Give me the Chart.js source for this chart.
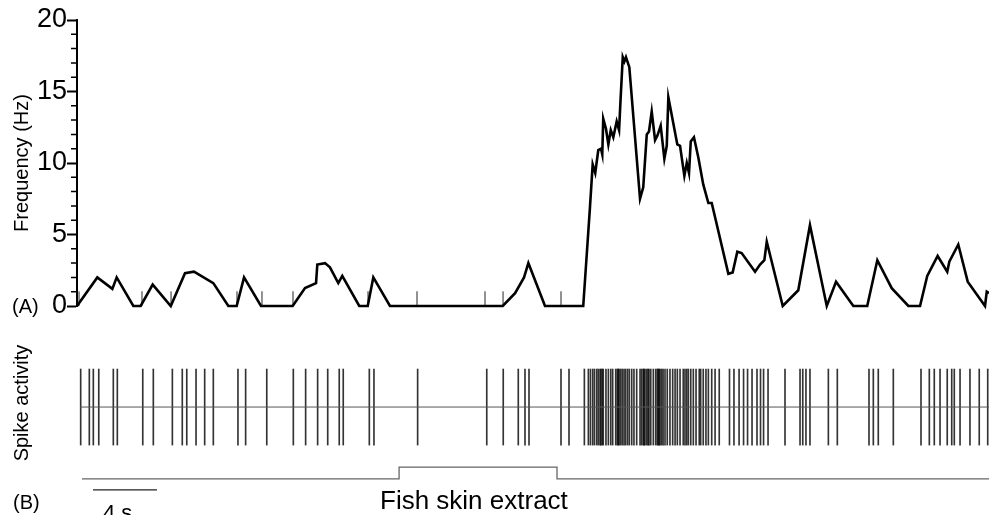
<!DOCTYPE html>
<html>
<head>
<meta charset="utf-8">
<title>Frequency and spike activity</title>
<script src="https://cdn.jsdelivr.net/npm/chart.js@4/dist/chart.umd.min.js"></script>
<style>
  html, body { margin: 0; padding: 0; background: #fff; overflow: hidden; }
  #wrap { position: relative; width: 989px; height: 515px; }
  #freqChart { position: absolute; left: 0; top: 0; }
  #spikeChart { position: absolute; left: 0; top: 320px; }
</style>
</head>
<body>
<div id="wrap">
  <canvas id="freqChart" width="989" height="330"></canvas>
  <canvas id="spikeChart" width="989" height="195"></canvas>
</div>
<script>
// (A) firing frequency, time in s
const freqTimes = [
  0.00, 1.27, 2.21, 2.48, 3.52, 3.98, 4.73, 5.86, 6.75, 7.31, 8.52, 9.46, 9.98, 10.44, 11.50,
  13.48, 14.25, 14.94, 15.02, 15.50, 15.81, 16.33, 16.58, 17.64, 18.17, 18.52, 19.56,
  26.61, 27.38, 27.94, 28.21, 29.25, 31.64,
  32.06, 32.23, 32.39, 32.58, 32.75, 32.83, 32.89, 33.06, 33.21, 33.36, 33.52, 33.73, 33.88, 33.98,
  34.11, 34.21, 34.31, 34.52, 35.19, 35.39, 35.61, 35.75, 35.92, 36.13, 36.27, 36.48, 36.71, 36.86,
  36.96, 37.52, 37.69, 37.96, 38.11, 38.25, 38.36, 38.56, 38.83, 39.14, 39.46, 39.67,
  40.71, 40.98, 41.27, 41.54, 42.38, 42.69, 42.96, 43.11, 44.11, 45.08, 45.81, 46.86, 47.44,
  48.52, 49.39, 50.02, 50.92, 51.96, 52.69, 53.14, 53.79, 54.39, 54.52, 55.08, 55.67, 56.75, 56.86, 57.00
];
const freqValues = [
  0, 2.0, 1.2, 2.0, 0, 0, 1.5, 0, 2.3, 2.4, 1.6, 0, 0, 2.0, 0,
  0, 1.25, 1.6, 2.9, 3.0, 2.7, 1.6, 2.1, 0, 0, 2.0, 0,
  0, 0.9, 2.0, 3.0, 0, 0,
  6.9, 9.9, 9.3, 10.9, 11.0, 10.6, 13.1, 12.4, 11.3, 12.3, 11.8, 12.9, 12.3, 14.6,
  17.4, 17.1, 17.4, 16.7, 7.5, 8.3, 12.0, 12.2, 13.6, 11.6, 11.9, 12.6, 10.3, 11.2,
  14.6, 11.3, 11.2, 9.1, 10.0, 9.3, 11.5, 11.8, 10.4, 8.5, 7.2, 7.2,
  2.25, 2.35, 3.8, 3.7, 2.4, 2.9, 3.2, 4.5, 0, 1.1, 5.65, 0, 1.7,
  0, 0, 3.2, 1.25, 0, 0, 2.1, 3.5, 2.4, 3.1, 4.3, 1.7, 0, 1.0, 0.9
];
// short grey marks standing on the zero line
const zeroMarkTimes = [0.13, 4.06, 5.88, 10.0, 11.56, 13.5, 18.19, 21.25, 25.5, 26.63, 30.25];
const zeroMarkRange = [0, 1];

const yTicksMajor = [0, 5, 10, 15, 20];
const yTicksMinor = [1, 2, 3, 4, 6, 7, 8, 9, 11, 12, 13, 14, 16, 17, 18, 19];

// (B) spike raster, time in s
const spikeTimes = [
  0.23, 0.77, 1.02, 1.36, 2.27, 2.52, 4.11, 4.77, 5.96, 6.58, 6.86, 7.44, 7.98, 8.52,
  10.06, 10.54, 11.86, 13.52, 14.29, 15.04, 15.67, 16.39, 16.64, 18.27, 18.56, 21.29,
  25.61, 26.64, 27.58, 28.00, 28.25, 30.25, 30.75,
  31.71, 31.96, 32.09, 32.23, 32.34, 32.48, 32.58, 32.69, 32.75, 32.83, 32.89, 33.06, 33.21,
  33.36, 33.48, 33.67, 33.77, 33.83, 33.88, 33.98, 34.08, 34.19, 34.29, 34.41, 34.52, 34.67,
  34.81, 34.98, 35.19, 35.29, 35.39, 35.44, 35.50, 35.61, 35.69, 35.75, 35.86, 36.02, 36.17,
  36.27, 36.33, 36.38, 36.44, 36.54, 36.63, 36.75, 36.89, 37.06, 37.23, 37.38, 37.52, 37.69,
  37.89, 38.00, 38.11, 38.21, 38.36, 38.52, 38.69, 38.89, 38.98, 39.14, 39.31, 39.46, 39.67,
  39.88, 40.14, 40.78, 41.06, 41.38, 41.66, 41.91, 42.19, 42.50, 42.72, 42.91, 43.19,
  44.25, 45.19, 45.36, 45.56, 45.81, 46.96, 47.52, 49.50, 49.77, 50.08, 51.02,
  52.75, 53.27, 53.58, 53.94, 54.39, 54.67, 54.83, 55.19, 55.81, 56.39, 56.92
];
const spikeRange = [-1, 1];
const rasterSpan = [0.19, 57];

// stimulus trace: fish skin extract on between 20.13 s and 30.0 s
const stimTimes = [0.31, 20.13, 30.0, 57];
const stimLevels = [-1.89, -1.58, -1.89, -1.89];

// 4 s scale bar
const scaleBarTimes = [1, 5];
const scaleBarLevel = -2.18;

Chart.defaults.font.family = "'Liberation Sans', Arial, Helvetica, sans-serif";
Chart.defaults.color = '#000';

function timeAxis() {
    return {
        type: 'linear',
        min: 0,
        max: 57,
        offset: false,
        display: false,
        grid: { offset: false }
    };
}

function drawText(ctx, text, x, y, size, align, rotation) {
    ctx.save();
    ctx.fillStyle = '#000';
    ctx.font = size + "px 'Liberation Sans', Arial, Helvetica, sans-serif";
    ctx.textAlign = align || 'left';
    ctx.textBaseline = rotation ? 'middle' : 'alphabetic';
    ctx.translate(x, y);
    if (rotation) ctx.rotate(rotation);
    ctx.fillText(text, 0, 0);
    ctx.restore();
}

// small ticks between the labelled ones
const minorTicksPlugin = {
    id: 'minorTicks',
    afterDraw(chart) {
        const y = chart.scales.y;
        const ctx = chart.ctx;
        ctx.save();
        ctx.strokeStyle = '#000';
        ctx.lineWidth = 1.5;
        ctx.beginPath();
        yTicksMinor.forEach(v => {
            const py = y.getPixelForValue(v);
            ctx.moveTo(y.right - 6, py);
            ctx.lineTo(y.right, py);
        });
        ctx.stroke();
        ctx.restore();
    }
};

const labelsA = {
    id: 'labelsA',
    afterDraw(chart) {
        drawText(chart.ctx, '(A)', 12, 313, 20);
    }
};

const labelsB = {
    id: 'labelsB',
    afterDraw(chart) {
        const ctx = chart.ctx;
        drawText(ctx, '(B)', 13, 189, 20);
        drawText(ctx, 'Spike activity', 22, 83, 20, 'center', -Math.PI / 2);
        drawText(ctx, '4 s', 103, 200, 22);
        drawText(ctx, 'Fish skin extract', 380, 189, 26);
    }
};

new Chart(document.getElementById('freqChart'), {
    type: 'line',
    data: {
        datasets: [
            {
                type: 'line',
                data: freqTimes.map((t, i) => ({ x: t, y: freqValues[i] })),
                borderColor: '#000',
                borderWidth: 2.6,
                pointRadius: 0,
                tension: 0,
                clip: false
            },
            {
                type: 'bar',
                data: zeroMarkTimes.map(t => ({ x: t, y: zeroMarkRange.slice() })),
                backgroundColor: '#8a8a8a',
                barThickness: 1.2
            }
        ]
    },
    options: {
        responsive: false,
        animation: false,
        events: [],
        layout: { padding: { left: 0, right: 0, top: 20, bottom: 24 } },
        plugins: { legend: { display: false }, tooltip: { enabled: false } },
        scales: {
            x: timeAxis(),
            y: {
                min: 0,
                max: 20,
                afterBuildTicks: s => { s.ticks = yTicksMajor.map(v => ({ value: v })); },
                ticks: { color: '#000', font: { size: 27 }, padding: 0 },
                grid: { drawOnChartArea: false, tickLength: 10, tickWidth: 2, tickColor: '#000' },
                border: { display: true, color: '#000', width: 2 },
                title: {
                    display: true,
                    text: 'Frequency (Hz)',
                    color: '#000',
                    font: { size: 20 },
                    padding: { top: 10, bottom: 0 }
                },
                afterFit: s => { s.width = 77; }
            }
        }
    },
    plugins: [minorTicksPlugin, labelsA]
});

new Chart(document.getElementById('spikeChart'), {
    type: 'line',
    data: {
        datasets: [
            {
                type: 'line',
                data: rasterSpan.map(t => ({ x: t, y: 0 })),
                borderColor: '#555',
                borderWidth: 1,
                pointRadius: 0
            },
            {
                type: 'bar',
                data: spikeTimes.map(t => ({ x: t, y: spikeRange.slice() })),
                backgroundColor: 'rgba(0,0,0,0.8)',
                barThickness: 1
            },
            {
                type: 'line',
                data: stimTimes.map((t, i) => ({ x: t, y: stimLevels[i] })),
                stepped: true,
                borderColor: '#666',
                borderWidth: 1.3,
                pointRadius: 0
            },
            {
                type: 'line',
                data: scaleBarTimes.map(t => ({ x: t, y: scaleBarLevel })),
                borderColor: '#222',
                borderWidth: 1.3,
                pointRadius: 0
            }
        ]
    },
    options: {
        responsive: false,
        animation: false,
        events: [],
        layout: { padding: { left: 77, right: 0, top: 0, bottom: 0 } },
        plugins: { legend: { display: false }, tooltip: { enabled: false } },
        scales: {
            x: timeAxis(),
            y: { display: false, min: -2.84, max: 2.29 }
        }
    },
    plugins: [labelsB]
});
</script>
</body>
</html>
